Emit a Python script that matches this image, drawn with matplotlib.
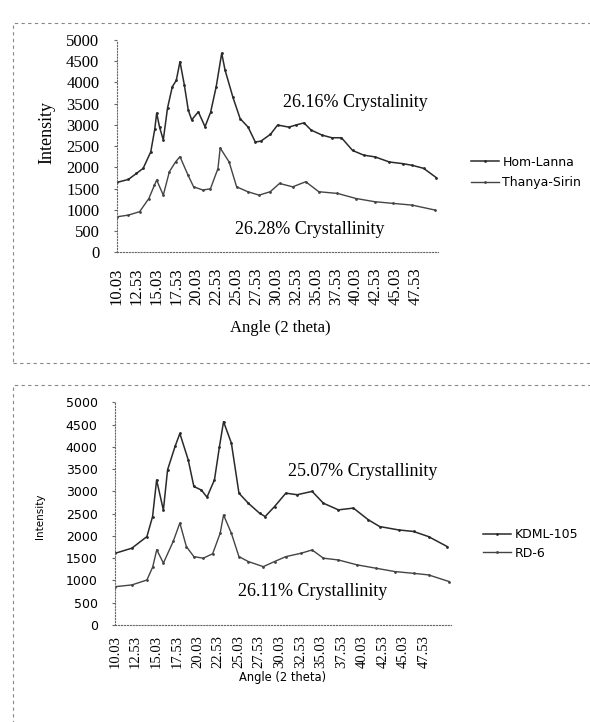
import matplotlib
matplotlib.use("Agg")
import matplotlib.pyplot as plt
from matplotlib.patches import Rectangle

# top panel: Hom-Lanna / Thanya-Sirin
hl_angle = [10.08, 11.5, 12.5, 13.35, 14.3, 14.8, 15.04, 15.4, 15.87, 16.4, 17.0, 17.5,
            17.96, 18.5, 19.0, 19.43, 20.26, 21.1, 21.8, 22.5, 23.19, 23.6, 24.6, 25.5,
            26.5, 27.4, 28.1, 29.3, 30.2, 31.6, 32.5, 33.5, 34.4, 35.8, 37.0, 38.2,
            39.6, 41.0, 42.4, 44.2, 45.9, 47.1, 48.5, 50.1]
hl_int = [1650, 1720, 1860, 1980, 2370, 2900, 3280, 2950, 2650, 3400, 3900, 4050,
          4490, 3950, 3350, 3120, 3310, 2960, 3300, 3900, 4690, 4300, 3650, 3150,
          2950, 2600, 2620, 2780, 3000, 2950, 3000, 3050, 2880, 2760, 2700, 2700,
          2400, 2290, 2250, 2130, 2090, 2050, 1980, 1760]

ts_angle = [10.08, 11.48, 12.9, 14.06, 14.76, 15.04, 15.87, 16.63, 17.4, 17.96, 18.97,
            19.67, 20.84, 21.78, 22.72, 23.0, 24.12, 25.06, 26.46, 27.87, 29.27, 30.44,
            32.08, 33.72, 35.36, 37.7, 40.04, 42.38, 44.72, 47.06, 49.9]
ts_int = [840, 880, 960, 1270, 1585, 1705, 1350, 1900, 2130, 2255, 1820,
          1545, 1470, 1500, 1975, 2460, 2130, 1545, 1430, 1350, 1430, 1625,
          1545, 1665, 1430, 1390, 1270, 1195, 1155, 1115, 1000]

# bottom panel: KDML-105 / RD-6
kd_angle = [10.05, 12.08, 13.9, 14.59, 15.08, 15.9, 16.41, 17.32, 17.9, 18.91, 19.6,
            20.51, 21.19, 22.1, 22.7, 23.2, 24.15, 25.07, 26.2, 27.57, 28.25, 29.39,
            30.76, 32.13, 33.95, 35.31, 37.14, 38.96, 40.78, 42.15, 44.43, 46.25,
            48.07, 50.35]
kd_int = [1610, 1725, 1985, 2435, 3255, 2580, 3485, 4010, 4300, 3710, 3110,
          3030, 2870, 3260, 4000, 4565, 4085, 2960, 2735, 2510, 2435, 2660,
          2960, 2925, 3000, 2735, 2585, 2625, 2360, 2210, 2135, 2100,
          1985, 1760]

rd_angle = [10.05, 12.08, 13.9, 14.6, 15.1, 15.9, 17.09, 17.9, 18.69, 19.6, 20.74,
            21.88, 22.79, 23.2, 24.15, 25.07, 26.2, 28.02, 29.39, 30.76, 32.58,
            33.95, 35.31, 37.14, 39.41, 41.69, 43.97, 46.25, 48.07, 50.58]
rd_int = [860, 900, 1010, 1300, 1690, 1390, 1875, 2290, 1760, 1535, 1500,
          1600, 2060, 2470, 2060, 1535, 1425, 1310, 1425, 1535, 1610,
          1685, 1500, 1460, 1350, 1275, 1200, 1160, 1125, 975]

xticks = [10.03 + 2.5 * i for i in range(16)]
yticks = list(range(0, 5001, 500))

W, H = 590, 722
fig = plt.figure(figsize=(W / 100, H / 100), dpi=100)

# dashed panel frames
for (y0, y1) in [(22.7, 363), (385, 730)]:
    fig.patches.append(Rectangle((12.7 / W, 1 - y1 / H), 590 / W, (y1 - y0) / H,
                                 transform=fig.transFigure, fill=False,
                                 ec="#888888", lw=0.8, ls=(0, (3, 3))))


def panel(rect, xmax, s1, s2, labels, notes, serif, legend_at, lspace):
    ax = fig.add_axes(rect)
    ax.plot(s1[0], s1[1], color="#2a2a2a", lw=1.1, marker=".", ms=2, label=labels[0])
    ax.plot(s2[0], s2[1], color="#444444", lw=1.0, marker=".", ms=2, label=labels[1])
    ax.set_xlim(10.03, xmax)
    ax.set_ylim(0, 5000)
    for s in ["top", "right"]:
        ax.spines[s].set_visible(False)
    for s in ["left", "bottom"]:
        ax.spines[s].set_linestyle(":")
        ax.spines[s].set_color("#666666")
    ax.set_xticks(xticks)
    ax.set_yticks(yticks)
    if serif:
        ax.set_xticklabels(["%.2f" % t for t in xticks], rotation=90,
                           family="Liberation Serif", fontsize=12)
        ax.set_yticklabels([str(t) for t in yticks], family="Liberation Serif", fontsize=12)
        ax.tick_params(axis="x", length=0, pad=11)
    else:
        ax.set_xticklabels(["%.2f" % t for t in xticks], rotation=90,
                           family="Liberation Serif", fontsize=10.5)
        ax.set_yticklabels([str(t) for t in yticks], family="DejaVu Sans", fontsize=9)
        ax.tick_params(axis="x", length=0, pad=7)
    ax.tick_params(axis="y", length=2, color="#666666", pad=10.5)
    for txt, x, y in notes:
        ax.text(x, y, txt, transform=ax.transAxes, ha="center", va="center",
                family="Liberation Serif", fontsize=13)
    ax.legend(loc="center left", bbox_to_anchor=legend_at, frameon=False,
              handlelength=2.2, handletextpad=0.3, labelspacing=lspace,
              prop={"family": "DejaVu Sans", "size": 9})
    return ax


panel([116.7 / W, 1 - 252.5 / H, 321.3 / W, 212.5 / H], 50.3,
      (hl_angle, hl_int), (ts_angle, ts_int), ["Hom-Lanna", "Thanya-Sirin"],
      [("26.16% Crystalinity", 0.743, 0.705), ("26.28% Crystallinity", 0.602, 0.106)],
      True, (1.068, 0.376), 0.6)
fig.text(47 / W, 1 - 133 / H, "Intensity", rotation=90, ha="center", va="center",
         family="Liberation Serif", fontsize=13)
fig.text(280.7 / W, 1 - 328 / H, "Angle (2 theta)", ha="center", va="center",
         family="Liberation Serif", fontsize=12)

panel([115 / W, 1 - 625 / H, 336 / W, 222.7 / H], 50.8,
      (kd_angle, kd_int), (rd_angle, rd_int), ["KDML-105", "RD-6"],
      [("25.07% Crystallinity", 0.738, 0.688), ("26.11% Crystallinity", 0.589, 0.15)],
      False, (1.0625, 0.364), 0.45)
fig.text(40 / W, 1 - 516.7 / H, "Intensity", rotation=90, ha="center", va="center",
         family="DejaVu Sans", fontsize=7.5)
fig.text(282.5 / W, 1 - 678 / H, "Angle (2 theta)", ha="center", va="center",
         family="DejaVu Sans", fontsize=8.3)

fig.savefig("out.png", dpi=100)
